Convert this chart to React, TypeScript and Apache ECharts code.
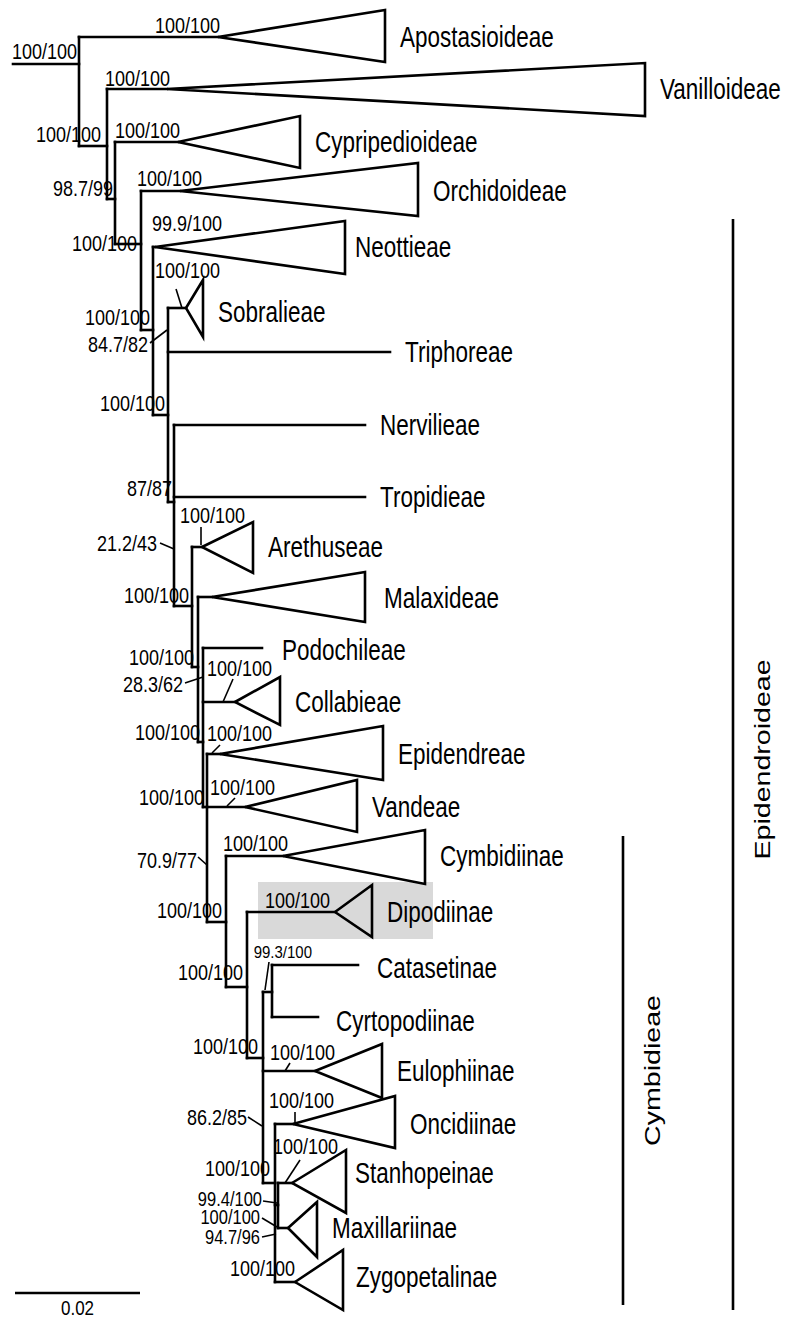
import { useEffect, useRef } from "react";
import * as echarts from "echarts";

// Branch depth in 0.001 substitutions/site (scale bar 20 = 0.02); vertical position in layout rows.
const rootStemStart = -0.32;
const nodeIds = ["root", "n1", "n2", "n3", "n4", "n5", "n6", "n7", "n8", "n9", "n10", "n12", "n13", "n14", "n15", "n16", "n17"];
const nodeDepth = [10.24, 14.72, 16.0, 20.16, 22.08, 24.48, 25.44, 28.32, 29.28, 30.08, 30.72, 33.76, 37.12, 41.12, 39.68, 41.6, 42.08];
const nodeParent = [null, "root", "n1", "n2", "n3", "n4", "n5", "n6", "n7", "n8", "n9", "n10", "n12", "n15", "n13", "n15", "n16"];
const nodeJoinRow = [64, 146, 199, 244, 330, 415, 502, 606, 667, 742, 807, 922, 987, 992, 1058, 1183, 1205];

const tipNames = ["Apostasioideae", "Vanilloideae", "Cypripedioideae", "Orchidoideae", "Neottieae", "Sobralieae", "Triphoreae", "Nervilieae", "Tropidieae", "Arethuseae", "Malaxideae", "Podochileae", "Collabieae", "Epidendreae", "Vandeae", "Cymbidiinae", "Dipodiinae", "Catasetinae", "Cyrtopodiinae", "Eulophiinae", "Oncidiinae", "Stanhopeinae", "Maxillariinae", "Zygopetalinae"];
const tipParent = ["root", "n1", "n2", "n3", "n4", "n5", "n5", "n6", "n6", "n7", "n8", "n9", "n9", "n10", "n10", "n12", "n13", "n14", "n14", "n15", "n16", "n17", "n17", "n16"];
const tipRow = [37, 89, 142, 191, 247, 308, 352, 425, 497, 547, 597, 648, 702, 754, 807, 856, 912, 965, 1017, 1071, 1124, 1183, 1228, 1282];
const tipApex = [32.48, 24.32, 26.08, 26.4, 22.4, 27.36, 60.0, 56.0, 56.0, 29.92, 31.52, 39.52, 35.2, 32.8, 36.8, 42.88, 51.2, 54.88, 48.48, 48.0, 44.48, 44.32, 43.68, 44.8];
const tipBase = [59.2, 100.8, 45.6, 64.48, 52.8, 30.08, null, null, null, 38.08, 56.0, null, 42.4, 58.88, 54.72, 65.6, 57.12, null, null, 58.72, 60.8, 52.96, 48.32, 52.48];
const tipTop = [10, 63, 116, 163, 221, 280, null, null, null, 522, 572, null, 677, 726, 780, 830, 885, null, null, 1044, 1096, 1150, 1202, 1250];
const tipBottom = [62, 116, 168, 216, 274, 337, null, null, null, 573, 622, null, 725, 780, 832, 884, 937, null, null, 1098, 1148, 1213, 1257, 1310];

const supportText = ["100/100", "100/100", "100/100", "100/100", "98.7/99", "100/100", "100/100", "100/100", "99.9/100", "100/100", "84.7/82", "100/100", "100/100", "87/87", "21.2/43", "100/100", "100/100", "100/100", "28.3/62", "100/100", "100/100", "100/100", "100/100", "100/100", "70.9/77", "100/100", "100/100", "100/100", "100/100", "99.3/100", "100/100", "100/100", "86.2/85", "100/100", "100/100", "100/100", "99.4/100", "100/100", "94.7/96", "100/100"];
const supportDepth = [9.92, 32.8, 13.76, 24.8, 15.68, 26.4, 19.52, 29.92, 33.12, 21.6, 21.28, 32.8, 24.0, 25.12, 22.72, 36.8, 27.84, 28.64, 26.88, 41.12, 29.6, 41.12, 30.24, 41.6, 29.12, 43.68, 33.12, 50.4, 36.48, 47.52, 38.88, 51.2, 37.12, 51.04, 40.8, 51.68, 39.52, 39.2, 39.2, 44.8];
const supportRow = [51, 25, 134, 78, 188, 130, 243, 178, 223, 317, 344, 270, 403, 488, 543, 515, 595, 657, 684, 668, 732, 733, 797, 787, 860, 843, 910, 900, 972, 952, 1046, 1052, 1117, 1100, 1168, 1146, 1200, 1218, 1238, 1268];

// leader lines linking a support value to its branch: [depth1, row1, depth2, row2]
const leaders = [
  [21.6, 343, 24.32, 330], [25.76, 289, 26.72, 308], [23.2, 543, 25.44, 549], [29.76, 527, 29.76, 545],
  [27.2, 683, 30.08, 677], [34.88, 679, 33.28, 702], [32.8, 745, 31.52, 753], [35.2, 798, 33.92, 806],
  [29.28, 857, 30.72, 865], [40.64, 962, 40.0, 990], [44.0, 1063, 43.2, 1071], [37.28, 1117, 39.52, 1126],
  [44.8, 1112, 44.8, 1123], [45.6, 1160, 43.2, 1183], [39.68, 1201, 41.92, 1203], [39.52, 1218, 41.92, 1227],
  [39.52, 1237, 41.76, 1234],
];

const bracketLabels = ["Epidendroideae", "Cymbidieae"];
const bracketDepth = [114.88, 97.28];
const bracketTop = [219, 836];
const bracketBottom = [1310, 1305];

const scaleBarValue = 20;
const scaleBarText = "0.02";
const scaleBarRow = 1293;

const highlightDepth = [38.88, 66.88];
const highlightRows = [882, 939];

// label placement tweaks (pixels), style only
const labelNudge: Record<string, [number, number]> = {
  Neottieae: [-5, 0],
  Sobralieae: [0, 4],
  Podochileae: [5, 2],
  Catasetinae: [4, 3],
  Cyrtopodiinae: [3, 4],
  Stanhopeinae: [-6, -10],
  Zygopetalinae: [-2, -5],
  Malaxideae: [4, 1],
};

const FONT = '"Liberation Sans", Arial, Helvetica, sans-serif';
const STRETCH = 1.27;
const LINE = { stroke: "#000", lineWidth: 2.6, lineCap: "square" as const, fill: "none" };

function depthOf(id: string | null) {
  return id === null ? rootStemStart : nodeDepth[nodeIds.indexOf(id)];
}

function text(x: number, y: number, s: string, size: number, align: string, sy = STRETCH) {
  return {
    type: "text",
    x,
    y,
    scaleY: sy,
    style: { text: s, fontSize: size, fontFamily: FONT, fill: "#000", align, verticalAlign: "middle" },
  };
}

export default function App() {
  const ref = useRef<HTMLDivElement>(null);
  useEffect(() => {
    document.body.style.margin = "0";
    const chart = echarts.init(ref.current!, null, { renderer: "svg" });

    const nodeSeries = {
      type: "custom",
      z: 3,
      silent: true,
      data: nodeIds.map((_, i) => [nodeDepth[i], nodeJoinRow[i]]),
      renderItem: (params: any, api: any) => {
        const i = params.dataIndex;
        const id = nodeIds[i];
        const rows: number[] = [nodeJoinRow[i]];
        tipParent.forEach((p, k) => p === id && rows.push(tipRow[k]));
        nodeParent.forEach((p, k) => p === id && rows.push(nodeJoinRow[k]));
        const d = nodeDepth[i];
        const a = api.coord([d, Math.min(...rows)]);
        const b = api.coord([d, Math.max(...rows)]);
        const s0 = api.coord([depthOf(nodeParent[i]), nodeJoinRow[i]]);
        const s1 = api.coord([d, nodeJoinRow[i]]);
        return {
          type: "group",
          children: [
            { type: "line", shape: { x1: a[0], y1: a[1], x2: b[0], y2: b[1] }, style: LINE },
            { type: "line", shape: { x1: s0[0], y1: s0[1], x2: s1[0], y2: s1[1] }, style: LINE },
          ],
        };
      },
    };

    const tipSeries = {
      type: "custom",
      z: 4,
      silent: true,
      data: tipNames.map((_, i) => [tipApex[i], tipRow[i]]),
      renderItem: (params: any, api: any) => {
        const i = params.dataIndex;
        const row = tipRow[i];
        const s0 = api.coord([depthOf(tipParent[i]), row]);
        const apex = api.coord([tipApex[i], row]);
        const children: any[] = [
          { type: "line", shape: { x1: s0[0], y1: s0[1], x2: apex[0], y2: apex[1] }, style: LINE },
        ];
        let endX = apex[0];
        const base = tipBase[i];
        if (base !== null) {
          const t = api.coord([base, tipTop[i]]);
          const b = api.coord([base, tipBottom[i]]);
          children.push({
            type: "polygon",
            shape: { points: [apex, t, b] },
            style: { stroke: "#000", lineWidth: 2.6, fill: "none", lineJoin: "miter" },
          });
          endX = t[0];
        }
        const nudge = labelNudge[tipNames[i]] || [0, 0];
        children.push(text(endX + 15 + nudge[0], apex[1] + nudge[1], tipNames[i], 22.5, "left"));
        return { type: "group", children };
      },
    };

    const supportSeries = {
      type: "custom",
      z: 5,
      silent: true,
      data: supportText.map((_, i) => [supportDepth[i], supportRow[i]]),
      renderItem: (params: any, api: any) => {
        const i = params.dataIndex;
        const p = api.coord([supportDepth[i], supportRow[i]]);
        let size = 18;
        let sy = STRETCH;
        if (i === 29) { size = 15; sy = 1.15; }
        if (i >= 36 && i <= 38) { size = 16.5; sy = 1.18; }
        return text(p[0], p[1], supportText[i], size, "right", sy);
      },
    };

    const leaderSeries = {
      type: "custom",
      z: 5,
      silent: true,
      data: leaders.map((l) => [l[0], l[1]]),
      renderItem: (params: any, api: any) => {
        const l = leaders[params.dataIndex];
        const a = api.coord([l[0], l[1]]);
        const b = api.coord([l[2], l[3]]);
        return {
          type: "line",
          shape: { x1: a[0], y1: a[1], x2: b[0], y2: b[1] },
          style: { stroke: "#000", lineWidth: 1.6 },
        };
      },
    };

    const bracketSeries = {
      type: "custom",
      z: 4,
      silent: true,
      data: bracketLabels.map((_, i) => [bracketDepth[i], bracketTop[i]]),
      renderItem: (params: any, api: any) => {
        const i = params.dataIndex;
        const a = api.coord([bracketDepth[i], bracketTop[i]]);
        const b = api.coord([bracketDepth[i], bracketBottom[i]]);
        return {
          type: "group",
          children: [
            { type: "line", shape: { x1: a[0], y1: a[1], x2: b[0], y2: b[1] }, style: { stroke: "#000", lineWidth: 2.6 } },
            {
              type: "text",
              x: a[0] + 29,
              y: (a[1] + b[1]) / 2 - (i === 0 ? 5 : 0),
              rotation: Math.PI / 2,
              scaleX: STRETCH,
              style: { text: bracketLabels[i], fontSize: 22.5, fontFamily: FONT, fill: "#000", align: "center", verticalAlign: "middle" },
            },
          ],
        };
      },
    };

    const scaleSeries = {
      type: "custom",
      z: 4,
      silent: true,
      data: [[0, scaleBarRow]],
      renderItem: (_p: any, api: any) => {
        const a = api.coord([0, scaleBarRow]);
        const b = api.coord([scaleBarValue, scaleBarRow]);
        return {
          type: "group",
          children: [
            { type: "line", shape: { x1: a[0], y1: a[1], x2: b[0], y2: b[1] }, style: { stroke: "#000", lineWidth: 2.6 } },
            text((a[0] + b[0]) / 2, a[1] + 14.5, scaleBarText, 17, "center", 1.2),
          ],
        };
      },
    };

    const highlightSeries = {
      type: "custom",
      z: 1,
      silent: true,
      data: [[highlightDepth[0], highlightRows[0]]],
      renderItem: (_p: any, api: any) => {
        const a = api.coord([highlightDepth[0], highlightRows[0]]);
        const b = api.coord([highlightDepth[1], highlightRows[1]]);
        return {
          type: "rect",
          shape: { x: a[0], y: a[1], width: b[0] - a[0], height: b[1] - a[1] },
          style: { fill: "#d9d9d9" },
        };
      },
    };

    chart.setOption({
      animation: false,
      backgroundColor: "#fff",
      grid: { left: 0, right: 0, top: 0, bottom: 0 },
      xAxis: { type: "value", name: "substitutions/site ×1000", min: -2.4, max: 123.2, show: false },
      yAxis: { type: "value", min: 0, max: 1320, inverse: true, show: false },
      series: [highlightSeries, nodeSeries, tipSeries, leaderSeries, supportSeries, bracketSeries, scaleSeries],
    });
    return () => chart.dispose();
  }, []);
  return <div ref={ref} style={{ width: 785, height: 1320 }} />;
}
